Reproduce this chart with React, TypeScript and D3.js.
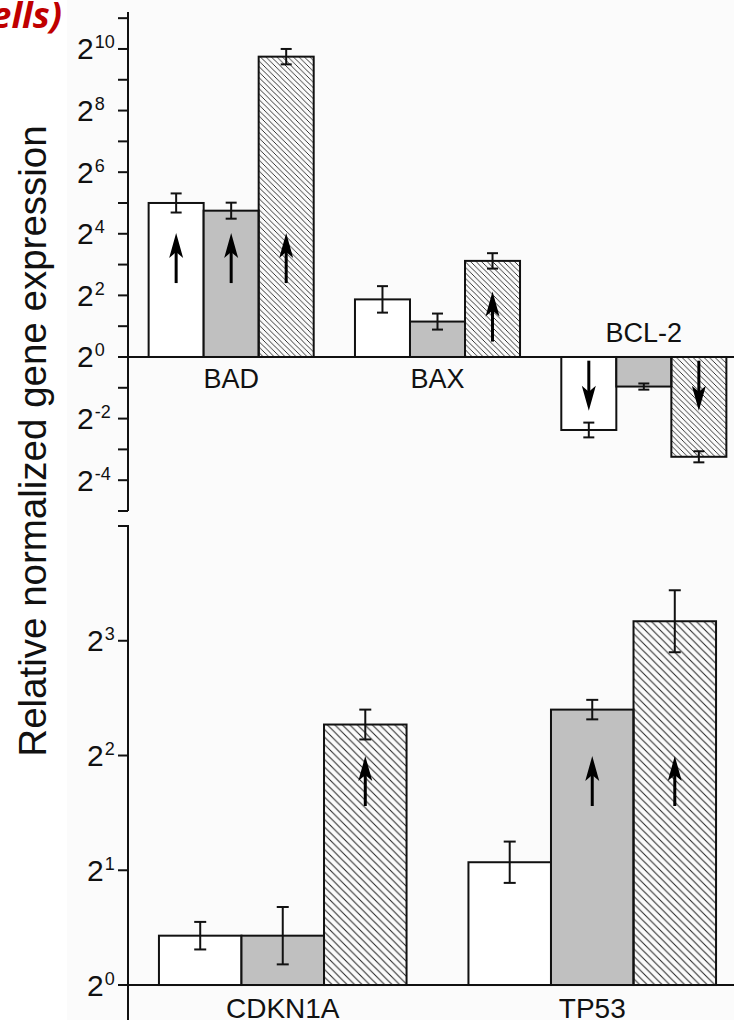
import * as d3 from "d3";

const W = 734;
const H = 1020;
const AXIS_X = 128;
const FONT = "Arial, 'Liberation Sans', sans-serif";

// three treatments per gene (white, gray, hatched)
const seriesKeys = ["A", "B", "C"];

// upper panel: log2 of relative expression
const topGroups = ["BAD", "BAX", "BCL-2"];
const topLog2 = [
  [5.0, 4.75, 9.75],
  [1.87, 1.15, 3.12],
  [-2.37, -0.96, -3.24],
];
const topErr = [
  [0.31, 0.26, 0.25],
  [0.43, 0.26, 0.25],
  [0.24, 0.1, 0.18],
];
// arrow tails (log2 units), null = no arrow
const topArrowFrom = [
  [2.4, 2.4, 2.4],
  [null, null, 0.5],
  [-0.12, null, -0.12],
];
const topMajorTicks = [10, 8, 6, 4, 2, 0, -2, -4];
const topMinorTicks = [11, 9, 7, 5, 3, 1, -1, -3, -5];

// lower panel
const bottomGroups = ["CDKN1A", "TP53"];
const bottomLog2 = [
  [0.43, 0.43, 2.27],
  [1.07, 2.4, 3.17],
];
const bottomErr = [
  [0.12, 0.25, 0.13],
  [0.18, 0.085, 0.27],
];
const bottomArrowFrom = [
  [null, null, 1.56],
  [null, 1.56, 1.56],
];
const bottomMajorTicks = [3, 2, 1, 0];
const bottomMinorTicks = [4];

const FILLS = ["#ffffff", "#c0c0c0"];

function Arrow({ x, y, down }) {
  // drawn pointing up, tip at 0
  return (
    <g transform={`translate(${x},${y}) scale(1,${down ? 1 : -1})`}>
      <line x1={0} y1={-18} x2={0} y2={-50} stroke="#000" strokeWidth={3} />
      <path d="M0,0 L-7,-25 L0,-19 L7,-25 Z" fill="#000" />
    </g>
  );
}

function Panel({
  groups, values, errors, arrowFrom, domain, range, major, minor,
  hatchId, labelStart, labelSize, catOffsetBelow, catOffsetAbove, capW, axisEnd,
}) {
  const y = d3.scaleLinear().domain(domain).range(range);
  const x0 = d3.scaleBand().domain(groups).range([AXIS_X, 747]).paddingInner(0.2).paddingOuter(0.1);
  const x1 = d3.scaleBand().domain(seriesKeys).range([0, x0.bandwidth()]);
  const y0 = y(0);

  return (
    <g>
      {groups.map((g, gi) => {
        const gx = x0(g);
        const mean = d3.mean(values[gi]);
        return (
          <g key={g}>
            {seriesKeys.map((s, si) => {
              const v = values[gi][si];
              const bx = gx + x1(s);
              const bw = x1.bandwidth();
              const top = Math.min(y(v), y0);
              const h = Math.abs(y(v) - y0);
              const cx = bx + bw / 2;
              const e = errors[gi][si];
              const af = arrowFrom[gi][si];
              return (
                <g key={s}>
                  <rect x={bx} y={top} width={bw} height={h}
                    fill={si === 2 ? `url(#${hatchId})` : FILLS[si]}
                    stroke="#111" strokeWidth={2} />
                  <line x1={cx} x2={cx} y1={y(v + e)} y2={y(v - e)} stroke="#111" strokeWidth={2} />
                  <line x1={cx - capW / 2} x2={cx + capW / 2} y1={y(v + e)} y2={y(v + e)} stroke="#111" strokeWidth={2} />
                  <line x1={cx - capW / 2} x2={cx + capW / 2} y1={y(v - e)} y2={y(v - e)} stroke="#111" strokeWidth={2} />
                  {af != null && (
                    <Arrow x={cx} y={v < 0 ? y(af) + 50 : y(af) - 50} down={v < 0} />
                  )}
                </g>
              );
            })}
            <text x={gx + x0.bandwidth() / 2}
              y={mean < 0 ? y0 - catOffsetAbove : y0 + catOffsetBelow}
              textAnchor="middle" fontSize={labelSize} fontFamily={FONT} fill="#111">{g}</text>
          </g>
        );
      })}
      <line x1={AXIS_X} x2={W} y1={y0} y2={y0} stroke="#111" strokeWidth={2} />
      <line x1={AXIS_X} x2={AXIS_X} y1={axisEnd[0]} y2={axisEnd[1]} stroke="#111" strokeWidth={2} />
      {[...major, ...minor].map((t) => (
        <line key={t} x1={AXIS_X - 10} x2={AXIS_X} y1={y(t)} y2={y(t)} stroke="#111" strokeWidth={2} />
      ))}
      {major.map((t) => (
        <text key={t} x={labelStart} y={y(t) + 10.5} fontSize={30} fontFamily={FONT} fill="#111">
          2
          <tspan dx={1} dy={-11} fontSize={18}>{t}</tspan>
        </text>
      ))}
    </g>
  );
}

export default function App() {
  return (
    <svg width={W} height={H} style={{ position: "absolute", left: 0, top: 0, background: "#fff" }}>
      <defs>
        <pattern id="hatchTop" patternUnits="userSpaceOnUse" width={5.5} height={5.5}>
          <path d="M-1,-1 L6.5,6.5 M-1,4.5 L1,6.5 M4.5,-1 L6.5,1" stroke="#222" strokeWidth={0.9} />
        </pattern>
        <pattern id="hatchBottom" patternUnits="userSpaceOnUse" width={7.5} height={7.5}>
          <path d="M-1,-1 L8.5,8.5 M-1,6.5 L1,8.5 M6.5,-1 L8.5,1" stroke="#222" strokeWidth={1} />
        </pattern>
      </defs>
      <rect x={67} y={0} width={W - 67} height={H} fill="#fbfbfb" />
      <text x={62} y={28} textAnchor="end" fill="#c00000" fontFamily="'Open Sans', sans-serif"
        fontWeight="bold" fontStyle="italic" fontSize={36}>cells)</text>
      <text transform="translate(46,441) rotate(-90)" textAnchor="middle" fontSize={38.5}
        fontFamily={FONT} fill="#111">Relative normalized gene expression</text>
      <Panel groups={topGroups} values={topLog2} errors={topErr} arrowFrom={topArrowFrom}
        domain={[-5, 11.2]} range={[511, 12]} major={topMajorTicks} minor={topMinorTicks}
        hatchId="hatchTop" labelStart={77} labelSize={27} catOffsetBelow={31} catOffsetAbove={15}
        capW={11} axisEnd={[12, 511]} />
      <Panel groups={bottomGroups} values={bottomLog2} errors={bottomErr} arrowFrom={bottomArrowFrom}
        domain={[-0.31, 4]} range={[1020.6, 526]} major={bottomMajorTicks} minor={bottomMinorTicks}
        hatchId="hatchBottom" labelStart={87} labelSize={28} catOffsetBelow={33} catOffsetAbove={15}
        capW={12} axisEnd={[525, 1020]} />
    </svg>
  );
}
